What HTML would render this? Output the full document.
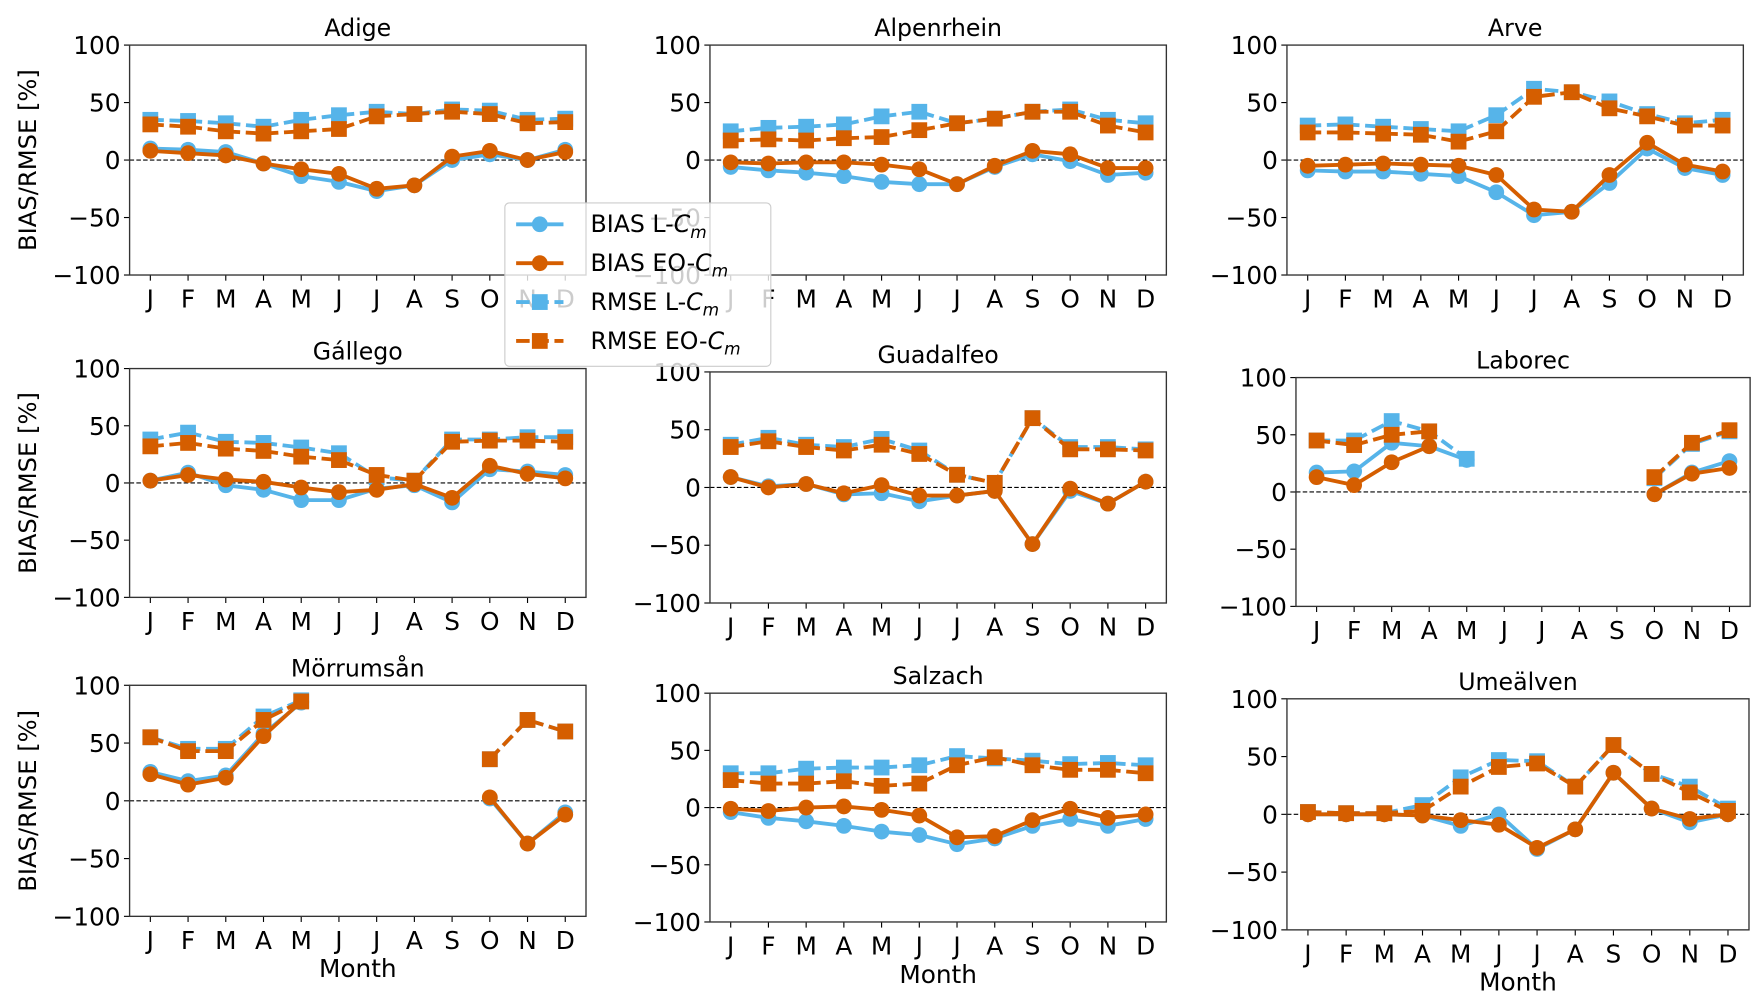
<!DOCTYPE html>
<html><head><meta charset="utf-8"><style>
html,body{margin:0;padding:0;background:#fff;}
svg{display:block;}
text{font-family:"DejaVu Sans","Liberation Sans",sans-serif;fill:#000;}
</style></head><body>
<svg id="fig" width="1758" height="1002" viewBox="0 0 1560 889" preserveAspectRatio="none" xmlns="http://www.w3.org/2000/svg"></svg>
<script>
const months = ["J","F","M","A","M","J","J","A","S","O","N","D"];
const yTicks = [100,50,0,-50,-100];
const panelNames = ["Adige","Alpenrhein","Arve","Gállego","Guadalfeo","Laborec","Mörrumsån","Salzach","Umeälven"];
const N = null;
const biasL = [
 [10,9,7,-3,-14,-19,-27,-22,0,5,0,9],
 [-6,-9,-11,-14,-19,-21,-21,-6,5,-1,-13,-11],
 [-9,-10,-10,-12,-14,-28,-48,-45,-20,10,-7,-13],
 [2,9,-2,-6,-15,-15,-5,-2,-17,12,10,7],
 [9,1,3,-6,-5,-12,-7,-3,-49,-3,-14,5],
 [17,18,43,40,28,N,N,N,N,-2,17,27],
 [25,17,22,58,85,N,N,N,N,2,-37,-10],
 [-4,-9,-12,-16,-21,-24,-32,-27,-16,-10,-16,-10],
 [0,0,0,-1,-10,0,-30,-13,36,5,-7,0]
];
const biasEO = [
 [8,6,4,-3,-8,-12,-25,-22,3,8,0,7],
 [-2,-3,-2,-2,-4,-8,-21,-5,8,5,-7,-7],
 [-5,-4,-3,-4,-5,-13,-43,-45,-13,15,-4,-10],
 [2,7,3,1,-4,-8,-6,-1,-13,15,8,4],
 [9,0,3,-5,2,-7,-7,-3,-49,-1,-14,5],
 [13,6,26,40,N,N,N,N,N,-2,16,21],
 [23,14,20,56,86,N,N,N,N,3,-37,-12],
 [-1,-3,0,1,-2,-7,-26,-25,-11,-1,-9,-6],
 [0,0,0,-1,-5,-9,-29,-13,36,5,-4,0]
];
const rmseL = [
 [35,34,32,29,35,39,42,40,44,43,35,36],
 [25,28,29,31,38,42,32,36,42,44,35,32],
 [30,31,29,27,25,39,62,59,51,40,32,35],
 [38,44,36,35,31,26,5,2,38,38,40,40],
 [37,43,37,35,42,32,11,4,60,35,35,33],
 [45,45,62,53,29,N,N,N,N,12,42,53],
 [55,45,45,73,87,N,N,N,N,36,70,60],
 [30,30,34,35,35,37,45,43,41,38,39,37],
 [2,1,1,8,32,47,46,24,60,35,24,5]
];
const rmseEO = [
 [31,29,25,23,25,27,38,40,42,40,32,33],
 [17,18,17,19,20,26,32,36,42,42,30,24],
 [24,24,23,22,16,25,55,59,45,38,30,30],
 [32,35,30,28,23,20,7,2,36,37,37,36],
 [35,40,35,32,37,29,11,4,60,33,33,32],
 [45,41,50,53,N,N,N,N,N,13,43,54],
 [55,43,43,70,86,N,N,N,N,36,70,60],
 [24,21,21,23,19,21,37,44,37,33,33,30],
 [2,1,1,3,24,41,44,24,60,35,19,3]
];
</script>
<script>
const svg = document.getElementById('fig');
const NS = "http://www.w3.org/2000/svg";
const BLUE = "#56B4E9", ORANGE = "#D55E00";
const boxes = [
 [115,40,405,204],[630,40,405,204],[1142,40,405,204],
 [115,327,405,203],[630,330,405,205],[1150,335,403,203],
 [115,608,405,205],[630,615,405,203],[1142,620,410,205]
];
function mk(tag, attrs, parent){
  const e = document.createElementNS(NS, tag);
  for (const k in attrs) e.setAttribute(k, attrs[k]);
  (parent||svg).appendChild(e);
  return e;
}
function drawSeries(g, vals, xf, yf, color, dashed, square, name){
  const sg = mk('g', {}, g);
  
  
  let seg = [];
  const segs = [];
  vals.forEach((v,i)=>{ if (v===null){ if(seg.length) segs.push(seg); seg=[]; } else seg.push([xf(i),yf(v)]); });
  if (seg.length) segs.push(seg);
  segs.forEach(s=>{
    const p = mk('polyline', {points:s.map(q=>q.join(',')).join(' '), fill:'none', stroke:color, 'stroke-width':3.4,
      'stroke-dasharray': dashed ? '12,5' : 'none', 'stroke-linejoin':'round'}, sg);
    
    
  });
  vals.forEach((v,i)=>{
    if (v===null) return;
    let m;
    if (square) m = mk('rect', {x:xf(i)-7, y:yf(v)-7, width:14, height:14, fill:color}, sg);
    else m = mk('circle', {cx:xf(i), cy:yf(v), r:7, fill:color}, sg);
    
    
  });
}
panelNames.forEach((nm, k)=>{
  const [x0,y0,w,h] = boxes[k];
  const g = mk('g', {});
  
  
  const xf = i => x0 + w*(i+0.55)/12.1;
  const yf = v => y0 + h*(100-v)/200;
  const t = mk('text', {x:x0+w/2, y:y0-8, 'text-anchor':'middle', 'font-size':21}, g);
  t.textContent = nm;
  
  
  yTicks.forEach(v=>{
    mk('line', {x1:x0-5, x2:x0, y1:yf(v), y2:yf(v), stroke:'#000', 'stroke-width':1}, g);
    const tl = mk('text', {x:x0-8, y:yf(v)+8, 'text-anchor':'end', 'font-size':22}, g);
    tl.textContent = v<0 ? '\u2212'+Math.abs(v) : String(v);
    
    
  });
  months.forEach((m,i)=>{
    mk('line', {x1:xf(i), x2:xf(i), y1:y0+h, y2:y0+h+5, stroke:'#000', 'stroke-width':1}, g);
    const ml = mk('text', {x:xf(i), y:y0+h+29, 'text-anchor':'middle', 'font-size':22}, g);
    ml.textContent = m;
    
    
  });
  mk('line', {x1:x0, x2:x0+w, y1:yf(0), y2:yf(0), stroke:'#000', 'stroke-width':1, 'stroke-dasharray':'4,2'}, g);
  drawSeries(g, rmseL[k], xf, yf, BLUE, true, true, 'rmse-l-series');
  drawSeries(g, biasL[k], xf, yf, BLUE, false, false, 'bias-l-series');
  drawSeries(g, rmseEO[k], xf, yf, ORANGE, true, true, 'rmse-eo-series');
  drawSeries(g, biasEO[k], xf, yf, ORANGE, false, false, 'bias-eo-series');
  mk('rect', {x:x0, y:y0, width:w, height:h, fill:'none', stroke:'#333', 'stroke-width':1.2}, g);
  if (k%3===0){
    const yl = mk('text', {x:0, y:0, 'text-anchor':'middle', 'font-size':21.5, transform:`translate(32,${y0+h/2}) rotate(-90)`}, g);
    yl.textContent = 'BIAS/RMSE [%]';
    
    
  }
  if (k>=6){
    const xl = mk('text', {x:x0+w/2, y:y0+h+54, 'text-anchor':'middle', 'font-size':22}, g);
    xl.textContent = 'Month';
    
    
  }
});
const lg = mk('g', {});


mk('rect', {x:448, y:180, width:236, height:145, rx:4, fill:'rgba(255,255,255,0.8)', stroke:'#ccc', 'stroke-width':1}, lg);
const legLabels = ['BIAS L-','BIAS EO-','RMSE L-','RMSE EO-'];
const legColors = [BLUE, ORANGE, BLUE, ORANGE];
legLabels.forEach((lab,i)=>{
  const y = 199 + i*34.5;
  const eg = mk('g', {}, lg);
  
  
  mk('line', {x1:458, x2:500, y1:y, y2:y, stroke:legColors[i], 'stroke-width':3.4, 'stroke-dasharray': i>=2?'12,5':'none'}, eg);
  if (i<2) mk('circle', {cx:479, cy:y, r:7, fill:legColors[i]}, eg);
  else mk('rect', {x:472, y:y-7, width:14, height:14, fill:legColors[i]}, eg);
  const t = mk('text', {x:524, y:y+7, 'font-size':21}, eg);
  t.innerHTML = lab + '<tspan font-style="italic">C</tspan><tspan font-style="italic" font-size="15" dy="5">m</tspan>';
});
</script>
</body></html>
